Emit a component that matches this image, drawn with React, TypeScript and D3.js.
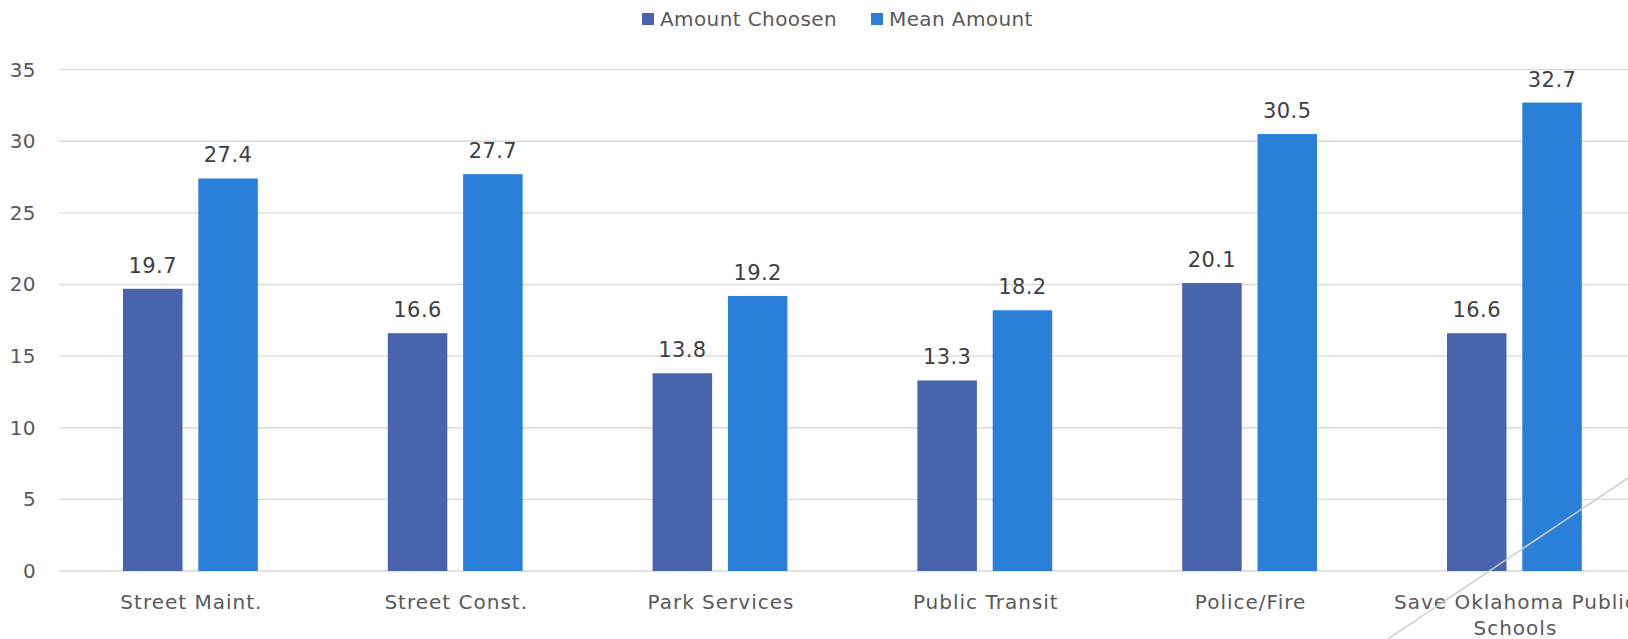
import React from "react";
import * as d3 from "d3";

const categories = [
  "Street Maint.",
  "Street Const.",
  "Park Services",
  "Public Transit",
  "Police/Fire",
  "Save Oklahoma Public Schools",
];
const seriesNames = ["Amount Choosen", "Mean Amount"];
const amountChosen = [19.7, 16.6, 13.8, 13.3, 20.1, 16.6];
const meanAmount = [27.4, 27.7, 19.2, 18.2, 30.5, 32.7];
const yTicks = [0, 5, 10, 15, 20, 25, 30, 35];

const colors = ["#4864ad", "#2a7fd8"];
const font = "'DejaVu Sans', sans-serif";

// wrap long category names like Excel does
const labelLines = (s: string) =>
  s.length > 20 ? ["Save Oklahoma Public", "Schools"] : [s];

export default function App() {
  const W = 1628;
  const H = 639;
  const left = 59;
  const band = 264.8;

  const x0 = d3
    .scaleBand<string>()
    .domain(categories)
    .range([left, left + band * categories.length]);
  const x1 = d3
    .scaleBand<string>()
    .domain(seriesNames)
    .range([64, band - 66])
    .paddingInner(0.21);
  const y = d3.scaleLinear().domain([0, 35]).range([571, 69.6]);

  const values = [amountChosen, meanAmount];

  return (
    <svg
      width={W}
      height={H}
      style={{ position: "absolute", left: 0, top: 0 }}
      fontFamily={font}
      letterSpacing={0.4}
    >
      <style>{"body{margin:0}"}</style>
      <rect width={W} height={H} fill="#fff" />

      {/* legend */}
      {seriesNames.map((s, i) => {
        const lx = [642, 871][i];
        return (
          <g key={s}>
            <rect x={lx} y={13} width={12} height={12} fill={colors[i]} />
            <text x={lx + 18} y={26} fontSize={20} fill="#595959">
              {s}
            </text>
          </g>
        );
      })}

      {/* grid + y labels */}
      {yTicks.map((t) => (
        <g key={t}>
          <line x1={left} x2={W} y1={y(t)} y2={y(t)} stroke="#d9d9d9" strokeWidth={1.3} />
          <text x={36} y={y(t) + 7} textAnchor="end" fontSize={20} fill="#595959">
            {t}
          </text>
        </g>
      ))}

      {/* bars */}
      {categories.map((c, ci) => (
        <g key={c} transform={`translate(${x0(c)},0)`}>
          {seriesNames.map((s, si) => {
            const v = values[si][ci];
            const bx = x1(s)!;
            return (
              <g key={s}>
                <rect
                  x={bx}
                  y={y(v)}
                  width={x1.bandwidth()}
                  height={y(0) - y(v)}
                  fill={colors[si]}
                />
                <text
                  x={bx + x1.bandwidth() / 2}
                  y={y(v) - 16}
                  textAnchor="middle"
                  fontSize={21}
                  fill="#404040"
                >
                  {v.toFixed(1)}
                </text>
              </g>
            );
          })}
          {labelLines(c).map((ln, li) => (
            <text
              key={li}
              x={band / 2}
              y={609 + li * 26}
              textAnchor="middle"
              fontSize={20}
              letterSpacing={1}
              fill="#595959"
            >
              {ln}
            </text>
          ))}
        </g>
      ))}

      {/* decorative diagonal */}
      <line x1={1388} y1={639} x2={1628} y2={478} stroke="#cccccc" strokeWidth={1.5} />
    </svg>
  );
}
